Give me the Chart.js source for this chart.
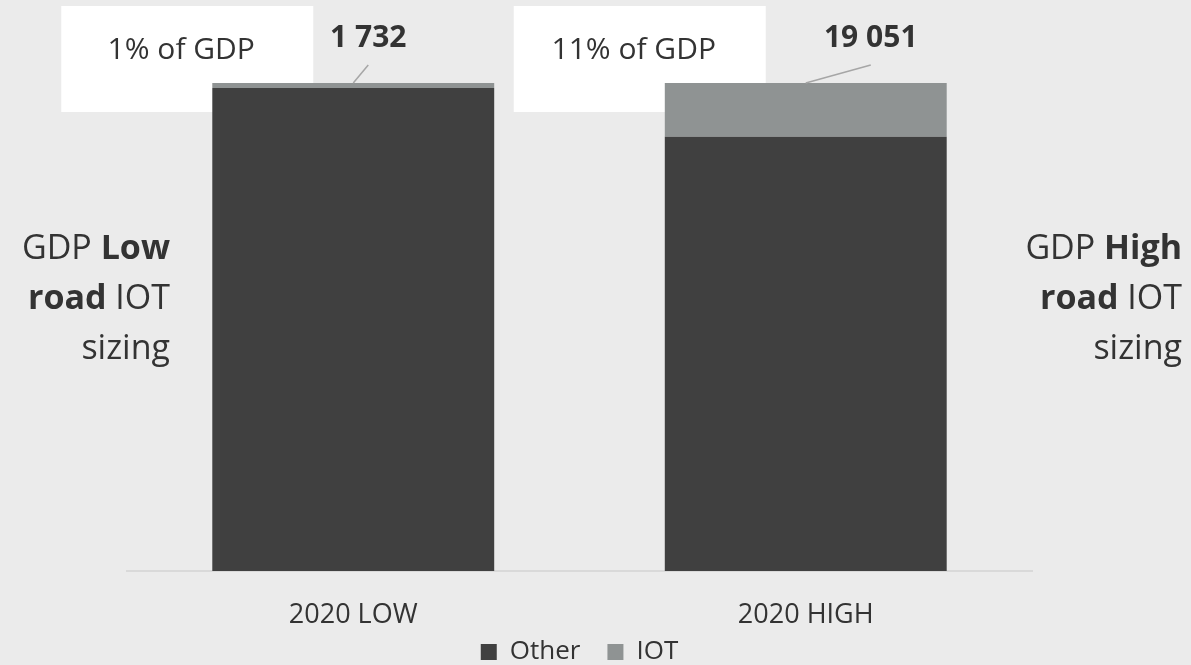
<!DOCTYPE html>
<html>
<head>
<meta charset="utf-8">
<script src="https://cdn.jsdelivr.net/npm/chart.js@4/dist/chart.umd.min.js"></script>
<style>
    html, body { margin: 0; padding: 0; background: #ebebeb; }
    #wrap { width: 1191px; height: 665px; position: relative; }
</style>
</head>
<body>
<div id="wrap"><canvas id="gdpChart" width="1191" height="665"></canvas></div>
<script>
// datos del gráfico
const categories = ['2020 LOW', '2020 HIGH'];
const otherShare = [99, 89];      // % del PIB - resto
const iotShare = [1, 11];         // % del PIB - IOT
const iotValues = [1732, 19051];  // valor IOT sobre cada barra
const shareLabels = ['1% of GDP', '11% of GDP'];

const FONT = '"Open Sans", "Noto Sans", sans-serif';
const TEXT = '#333333';

const formatNum = (n) => String(n).replace(/\B(?=(\d{3})+(?!\d))/g, ' ');

// cajas blancas detrás de las barras
const boxesPlugin = {
    id: 'boxes',
    beforeDatasetsDraw: (chart) => {
        const ctx = chart.ctx;
        const bars = chart.getDatasetMeta(0).data;
        ctx.save();
        bars.forEach((bar, i) => {
            const cx = bar.x - 166;
            ctx.fillStyle = '#ffffff';
            ctx.fillRect(cx - 126, 6, 252, 106);
            ctx.fillStyle = TEXT;
            ctx.font = '30px ' + FONT;
            ctx.textAlign = 'center';
            ctx.textBaseline = 'middle';
            ctx.fillText(shareLabels[i], cx - 6, 50);
        });
        ctx.restore();
    }
};

// etiquetas con línea guía y textos laterales
const labelsPlugin = {
    id: 'valueLabels',
    afterDatasetsDraw: (chart) => {
        const ctx = chart.ctx;
        const top = chart.getDatasetMeta(1).data;
        const offsets = [15, 65];
        ctx.save();
        top.forEach((bar, i) => {
            const lx = bar.x + offsets[i];
            ctx.strokeStyle = '#a6a6a6';
            ctx.lineWidth = 1.5;
            ctx.beginPath();
            ctx.moveTo(lx, bar.y - 18);
            ctx.lineTo(bar.x, bar.y);
            ctx.stroke();
            ctx.fillStyle = TEXT;
            ctx.font = 'bold 30px ' + FONT;
            ctx.textAlign = 'center';
            ctx.textBaseline = 'middle';
            ctx.fillText(formatNum(iotValues[i]), lx, bar.y - 45);
        });

        const drawLines = (lines, right, y0) => {
            lines.forEach((parts, k) => {
                let x = right;
                for (let j = parts.length - 1; j >= 0; j--) {
                    const [txt, bold] = parts[j];
                    ctx.font = (bold ? 'bold ' : '') + '34px ' + FONT;
                    ctx.textAlign = 'right';
                    ctx.textBaseline = 'alphabetic';
                    ctx.fillText(txt, x, y0 + k * 50);
                    x -= ctx.measureText(txt).width;
                }
            });
        };
        const area = chart.chartArea;
        drawLines([[['GDP ', false], ['Low', true]], [['road', true], [' IOT', false]], [['sizing', false]]],
            area.left + 43, area.top + 176);
        drawLines([[['GDP ', false], ['High', true]], [['road', true], [' IOT', false]], [['sizing', false]]],
            chart.width - 9, area.top + 176);
        ctx.restore();
    }
};

new Chart(document.getElementById('gdpChart'), {
    type: 'bar',
    data: {
        labels: categories,
        datasets: [{
            label: 'Other',
            data: otherShare,
            backgroundColor: '#404040',
            barPercentage: 0.623,
            categoryPercentage: 1
        }, {
            label: 'IOT',
            data: iotShare,
            backgroundColor: '#8f9393',
            barPercentage: 0.623,
            categoryPercentage: 1
        }]
    },
    options: {
        responsive: false,
        animation: false,
        layout: { padding: { top: 83, left: 127, right: 159, bottom: -10 } },
        scales: {
            x: {
                stacked: true,
                grid: { display: false },
                border: { display: true, color: '#d9d9d9', width: 2 },
                ticks: { color: TEXT, font: { family: FONT, size: 27 }, padding: 20 },
                afterFit: (scale) => {
                    const lg = scale.chart.legend;
                    scale.height = 104 - (lg ? lg.height : 0);
                }
            },
            y: {
                stacked: true,
                display: false,
                min: 0,
                max: 100
            }
        },
        plugins: {
            legend: {
                position: 'bottom',
                labels: {
                    color: TEXT,
                    font: { family: FONT, size: 26 },
                    boxWidth: 16,
                    boxHeight: 16,
                    padding: 0,
                    generateLabels: (chart) => {
                        const items = Chart.defaults.plugins.legend.labels.generateLabels(chart);
                        items.forEach((it, i) => {
                            if (i < items.length - 1) it.text = it.text + '    ';
                        });
                        return items;
                    }
                }
            },
            tooltip: { enabled: false }
        }
    },
    plugins: [boxesPlugin, labelsPlugin]
});
</script>
</body>
</html>
